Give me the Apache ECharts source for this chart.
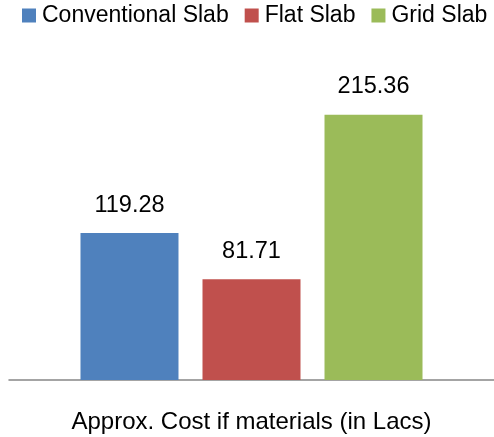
<!DOCTYPE html>
<html>
<head>
<meta charset="utf-8">
<script src="https://cdn.jsdelivr.net/npm/echarts@6/dist/echarts.min.js"></script>
<style>
  html, body { margin: 0; padding: 0; background: #fff; }
  #chart { width: 494px; height: 437px; }
</style>
</head>
<body>
<div id="chart"></div>
<script>
// Material cost comparison of three slab systems
const categories = ['Approx. Cost if materials (in Lacs)'];
const seriesNames = ['Conventional Slab', 'Flat Slab', 'Grid Slab'];
const conventionalSlab = [119.28];
const flatSlab = [81.71];
const gridSlab = [215.36];
const seriesColors = ['#4F81BD', '#C0504D', '#9BBB59'];

const FONT = 'Liberation Sans, Arial, sans-serif';
const valueSets = [conventionalSlab, flatSlab, gridSlab];

const chart = echarts.init(document.getElementById('chart'), null, { renderer: 'canvas' });

chart.setOption({
  animation: false,
  backgroundColor: '#ffffff',
  textStyle: { fontFamily: FONT },
  legend: {
    data: seriesNames,
    left: 22,
    top: 4,
    width: 490,
    padding: 0,
    itemWidth: 14,
    itemHeight: 14,
    itemGap: 16,
    icon: 'rect',
    textStyle: { fontFamily: FONT, fontSize: 23, color: '#000', padding: [0, 0, 0, 1] }
  },
  grid: { left: 9, top: 72, width: 488, height: 308, containLabel: false },
  xAxis: {
    type: 'category',
    data: categories,
    axisLine: { show: true, lineStyle: { color: '#868686', width: 1.5 } },
    axisTick: { show: false },
    axisLabel: { fontFamily: FONT, fontSize: 24, color: '#000', margin: 30 }
  },
  yAxis: {
    type: 'value',
    min: 0,
    max: 250,
    show: false,
    splitLine: { show: false }
  },
  series: seriesNames.map((name, i) => ({
    name,
    type: 'bar',
    data: valueSets[i],
    barWidth: 98,
    barGap: '24.5%',
    itemStyle: { color: seriesColors[i] },
    label: {
      show: true,
      position: 'top',
      distance: 16,
      fontFamily: FONT,
      fontSize: 23.5,
      color: '#000',
      formatter: p => p.value.toFixed(2)
    }
  }))
});
</script>
</body>
</html>
